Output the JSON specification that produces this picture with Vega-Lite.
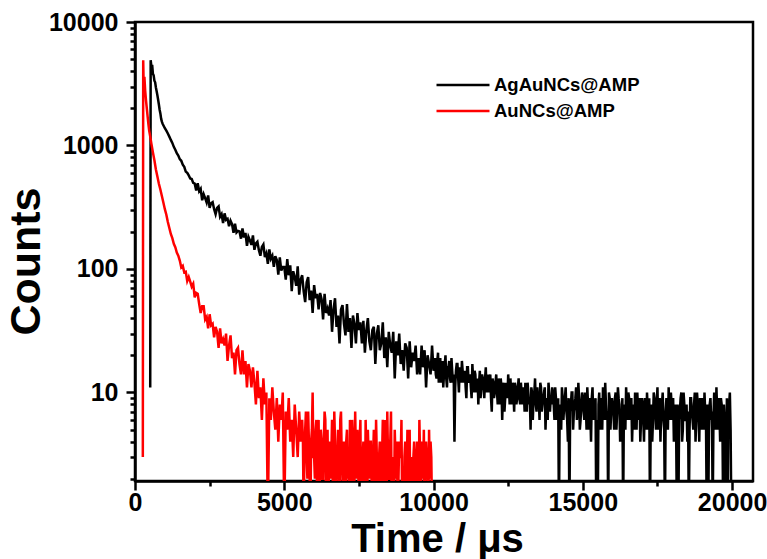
{
"$schema": "https://vega.github.io/schema/vega-lite/v6.json",
"autosize": {"type": "none"},
"padding": {"left": 135, "top": 22, "right": 14, "bottom": 78},
"width": 618,
"height": 459,
"background": "white",
"config": {
  "view": {"stroke": "black", "strokeWidth": 2.5},
  "axis": {"grid": false, "domainColor": "black", "domainWidth": 2.5, "tickColor": "black", "tickWidth": 2.5, "labelFont": "Liberation Sans", "labelFontWeight": "bold", "labelFontSize": 25, "labelColor": "black", "titleFont": "Liberation Sans", "titleFontWeight": "bold", "titleFontSize": 40, "titleColor": "black", "labelOverlap": false, "labelFlush": false}
},
"datasets": {
"black": [
{"t":510,"c":11},{"t":525,"c":4900},{"t":550,"c":4350},{"t":575,"c":4500},{"t":600,"c":3800},{"t":625,"c":3700},{"t":650,"c":3350},{"t":675,"c":3250},{"t":700,"c":2950},{"t":725,"c":2750},{"t":750,"c":2550},{"t":775,"c":2350},{"t":800,"c":2150},{"t":825,"c":1950},{"t":850,"c":1820},{"t":875,"c":1650},{"t":900,"c":1560},{"t":925,"c":1500},{"t":950,"c":1460},{"t":975,"c":1420},{"t":1000,"c":1380},
{"t":1050,"c":1320},{"t":1100,"c":1250},{"t":1150,"c":1180},{"t":1200,"c":1110},{"t":1250,"c":1050},{"t":1300,"c":975},{"t":1350,"c":925},{"t":1400,"c":865},{"t":1450,"c":830},{"t":1500,"c":775},{"t":1550,"c":752},{"t":1600,"c":700},{"t":1650,"c":672},{"t":1700,"c":615},{"t":1750,"c":600},{"t":1800,"c":572},{"t":1850,"c":540},{"t":1900,"c":535},{"t":1950,"c":498},
{"t":2000,"c":491},{"t":2050,"c":433},{"t":2100,"c":495},{"t":2150,"c":426},{"t":2200,"c":445},{"t":2250,"c":360},{"t":2300,"c":403},{"t":2350,"c":375},{"t":2400,"c":345},{"t":2450,"c":394},{"t":2500,"c":313},{"t":2550,"c":341},{"t":2600,"c":348},{"t":2650,"c":305},{"t":2700,"c":278},{"t":2750,"c":312},{"t":2800,"c":321},{"t":2850,"c":265},{"t":2900,"c":278},{"t":2950,"c":235},
{"t":3000,"c":282},{"t":3050,"c":250},{"t":3100,"c":255},{"t":3150,"c":222},{"t":3200,"c":246},{"t":3250,"c":231},{"t":3300,"c":196},{"t":3350,"c":233},{"t":3400,"c":197},{"t":3450,"c":203},{"t":3500,"c":201},{"t":3550,"c":176},{"t":3600,"c":213},{"t":3650,"c":180},{"t":3700,"c":196},{"t":3750,"c":154},{"t":3800,"c":182},{"t":3850,"c":170},{"t":3900,"c":157},{"t":3950,"c":187},
{"t":4000,"c":143},{"t":4050,"c":161},{"t":4100,"c":166},{"t":4150,"c":142},{"t":4200,"c":128},{"t":4250,"c":151},{"t":4300,"c":158},{"t":4350,"c":125},{"t":4400,"c":134},{"t":4450,"c":110},{"t":4500,"c":144},{"t":4550,"c":121},{"t":4600,"c":128},{"t":4650,"c":104},{"t":4700,"c":127},{"t":4750,"c":118},{"t":4800,"c":90},{"t":4850,"c":124},{"t":4900,"c":97},{"t":4950,"c":104},
{"t":5000,"c":104},{"t":5050,"c":82},{"t":5100,"c":120},{"t":5150,"c":89},{"t":5200,"c":107},{"t":5250,"c":66},{"t":5300,"c":96},{"t":5350,"c":86},{"t":5400,"c":73},{"t":5450,"c":105},{"t":5500,"c":62},{"t":5550,"c":82},{"t":5600,"c":89},{"t":5650,"c":66},{"t":5700,"c":54},{"t":5750,"c":78},{"t":5800,"c":86},{"t":5850,"c":56},{"t":5900,"c":67},{"t":5950,"c":44},
{"t":6000,"c":74},{"t":6050,"c":58},{"t":6100,"c":63},{"t":6150,"c":47},{"t":6200,"c":64},{"t":6250,"c":57},{"t":6300,"c":39},{"t":6350,"c":63},{"t":6400,"c":44},{"t":6450,"c":48},{"t":6500,"c":42},{"t":6550,"c":56},{"t":6600,"c":31},{"t":6650,"c":47},{"t":6700,"c":58},{"t":6750,"c":34},{"t":6800,"c":42},{"t":6850,"c":25},{"t":6900,"c":47},{"t":6950,"c":51},
{"t":7000,"c":36},{"t":7050,"c":29},{"t":7100,"c":52},{"t":7150,"c":31},{"t":7200,"c":40},{"t":7250,"c":23},{"t":7300,"c":42},{"t":7350,"c":36},{"t":7400,"c":25},{"t":7450,"c":44},{"t":7500,"c":32},{"t":7550,"c":37},{"t":7600,"c":25},{"t":7650,"c":38},{"t":7700,"c":21},{"t":7750,"c":32},{"t":7800,"c":40},{"t":7850,"c":26},{"t":7900,"c":22},{"t":7950,"c":32},
{"t":8000,"c":34},{"t":8050,"c":17},{"t":8100,"c":30},{"t":8150,"c":35},{"t":8200,"c":22},{"t":8250,"c":25},{"t":8300,"c":37},{"t":8350,"c":19},{"t":8400,"c":28},{"t":8450,"c":16},{"t":8500,"c":31},{"t":8550,"c":24},{"t":8600,"c":21},{"t":8650,"c":31},{"t":8700,"c":13},{"t":8750,"c":26},{"t":8800,"c":20},{"t":8850,"c":30},{"t":8900,"c":17},{"t":8950,"c":22},
{"t":9000,"c":15},{"t":9050,"c":25},{"t":9100,"c":23},{"t":9150,"c":13},{"t":9200,"c":26},{"t":9250,"c":16},{"t":9300,"c":21},{"t":9350,"c":18},{"t":9400,"c":24},{"t":9450,"c":14},{"t":9500,"c":19},{"t":9550,"c":14},{"t":9600,"c":24},{"t":9650,"c":16},{"t":9700,"c":22},{"t":9750,"c":11},{"t":9800,"c":20},{"t":9850,"c":17},{"t":9900,"c":14},{"t":9950,"c":24},
{"t":10000,"c":15},{"t":10050,"c":19},{"t":10100,"c":13},{"t":10150,"c":21},{"t":10200,"c":16},{"t":10250,"c":12},{"t":10300,"c":18},{"t":10350,"c":14},{"t":10400,"c":20},{"t":10450,"c":11},{"t":10500,"c":16},{"t":10550,"c":13},{"t":10600,"c":19},{"t":10650,"c":12},{"t":10700,"c":4},{"t":10750,"c":15},{"t":10800,"c":17},{"t":10850,"c":10},{"t":10900,"c":14},{"t":10950,"c":18},
{"t":11000,"c":12},{"t":11050,"c":15},{"t":11100,"c":9},{"t":11150,"c":16},{"t":11200,"c":13},{"t":11250,"c":11},{"t":11300,"c":17},{"t":11350,"c":10},{"t":11400,"c":14},{"t":11450,"c":12},{"t":11500,"c":8},{"t":11550,"c":15},{"t":11600,"c":11},{"t":11650,"c":13},{"t":11700,"c":9},{"t":11750,"c":16},{"t":11800,"c":12},{"t":11850,"c":10},{"t":11900,"c":14},{"t":11950,"c":7},
{"t":12000,"c":12},{"t":12050,"c":10},{"t":12100,"c":14},{"t":12150,"c":8},{"t":12200,"c":11},{"t":12250,"c":13},{"t":12300,"c":6},{"t":12350,"c":12},{"t":12400,"c":9},{"t":12450,"c":11},{"t":12500,"c":14},{"t":12550,"c":8},{"t":12600,"c":10},{"t":12650,"c":12},{"t":12700,"c":7},{"t":12750,"c":11},{"t":12800,"c":9},{"t":12850,"c":13},{"t":12900,"c":8},{"t":12950,"c":10},
{"t":13000,"c":11},{"t":13050,"c":7},{"t":13100,"c":9},{"t":13150,"c":12},{"t":13200,"c":8},{"t":13250,"c":5},{"t":13300,"c":10},{"t":13350,"c":9},{"t":13400,"c":13},{"t":13450,"c":7},{"t":13500,"c":9},{"t":13550,"c":6},{"t":13600,"c":11},{"t":13650,"c":8},{"t":13700,"c":10},{"t":13750,"c":5},{"t":13800,"c":9},{"t":13850,"c":12},{"t":13900,"c":7},{"t":13950,"c":8},
{"t":14000,"c":10},{"t":14050,"c":6},{"t":14100,"c":9},{"t":14150,"c":7},{"t":14200,"c":1},{"t":14250,"c":8},{"t":14300,"c":11},{"t":14350,"c":6},{"t":14400,"c":9},{"t":14450,"c":7},{"t":14500,"c":4},{"t":14550,"c":1},{"t":14600,"c":8},{"t":14650,"c":10},{"t":14700,"c":7},{"t":14750,"c":9},{"t":14800,"c":6},{"t":14850,"c":12},{"t":14900,"c":5},{"t":14950,"c":8},
{"t":15000,"c":9},{"t":15050,"c":6},{"t":15100,"c":8},{"t":15150,"c":11},{"t":15200,"c":5},{"t":15250,"c":7},{"t":15300,"c":9},{"t":15350,"c":6},{"t":15400,"c":8},{"t":15450,"c":1},{"t":15500,"c":1},{"t":15550,"c":10},{"t":15600,"c":7},{"t":15650,"c":5},{"t":15700,"c":8},{"t":15750,"c":12},{"t":15800,"c":6},{"t":15850,"c":1},{"t":15900,"c":9},{"t":15950,"c":7},
{"t":16000,"c":8},{"t":16050,"c":5},{"t":16100,"c":10},{"t":16150,"c":7},{"t":16200,"c":9},{"t":16250,"c":4},{"t":16300,"c":6},{"t":16350,"c":1},{"t":16400,"c":8},{"t":16450,"c":11},{"t":16500,"c":6},{"t":16550,"c":9},{"t":16600,"c":7},{"t":16650,"c":4},{"t":16700,"c":8},{"t":16750,"c":10},{"t":16800,"c":5},{"t":16850,"c":7},{"t":16900,"c":9},{"t":16950,"c":6},
{"t":17000,"c":8},{"t":17050,"c":4},{"t":17100,"c":7},{"t":17150,"c":10},{"t":17200,"c":5},{"t":17250,"c":1},{"t":17300,"c":8},{"t":17350,"c":6},{"t":17400,"c":9},{"t":17450,"c":5},{"t":17500,"c":11},{"t":17550,"c":7},{"t":17600,"c":4},{"t":17650,"c":8},{"t":17700,"c":6},{"t":17750,"c":1},{"t":17800,"c":9},{"t":17850,"c":5},{"t":17900,"c":7},{"t":17950,"c":10},
{"t":18000,"c":6},{"t":18050,"c":4},{"t":18100,"c":8},{"t":18150,"c":1},{"t":18200,"c":1},{"t":18250,"c":7},{"t":18300,"c":10},{"t":18350,"c":5},{"t":18400,"c":8},{"t":18450,"c":6},{"t":18500,"c":4},{"t":18550,"c":1},{"t":18600,"c":9},{"t":18650,"c":7},{"t":18700,"c":5},{"t":18750,"c":10},{"t":18800,"c":6},{"t":18850,"c":8},{"t":18900,"c":4},{"t":18950,"c":7},
{"t":19000,"c":9},{"t":19050,"c":5},{"t":19100,"c":7},{"t":19150,"c":1},{"t":19200,"c":1},{"t":19250,"c":8},{"t":19300,"c":6},{"t":19350,"c":1},{"t":19400,"c":10},{"t":19450,"c":5},{"t":19500,"c":7},{"t":19550,"c":9},{"t":19600,"c":4},{"t":19650,"c":8},{"t":19700,"c":1},{"t":19750,"c":6},{"t":19800,"c":1},{"t":19850,"c":1},{"t":19900,"c":8},{"t":19950,"c":5},{"t":19975,"c":1},
{"t":10025,"c":17},{"t":10075,"c":14},{"t":10125,"c":18},{"t":10175,"c":12},{"t":10225,"c":19},{"t":10275,"c":15},{"t":10325,"c":11},{"t":10375,"c":17},{"t":10425,"c":13},{"t":10475,"c":16},{"t":10525,"c":18},{"t":10575,"c":12},{"t":10625,"c":15},{"t":10675,"c":14},{"t":10725,"c":11},{"t":10775,"c":17},{"t":10825,"c":13},{"t":10875,"c":16},{"t":10925,"c":12},{"t":10975,"c":15},
{"t":11025,"c":14},{"t":11075,"c":11},{"t":11125,"c":16},{"t":11175,"c":12},{"t":11225,"c":14},{"t":11275,"c":9},{"t":11325,"c":13},{"t":11375,"c":15},{"t":11425,"c":10},{"t":11475,"c":13},{"t":11525,"c":12},{"t":11575,"c":9},{"t":11625,"c":14},{"t":11675,"c":11},{"t":11725,"c":13},{"t":11775,"c":10},{"t":11825,"c":14},{"t":11875,"c":12},{"t":11925,"c":9},{"t":11975,"c":13},
{"t":12025,"c":9},{"t":12075,"c":12},{"t":12125,"c":10},{"t":12175,"c":13},{"t":12225,"c":8},{"t":12275,"c":11},{"t":12325,"c":10},{"t":12375,"c":7},{"t":12425,"c":12},{"t":12475,"c":9},{"t":12525,"c":11},{"t":12575,"c":13},{"t":12625,"c":8},{"t":12675,"c":10},{"t":12725,"c":12},{"t":12775,"c":8},{"t":12825,"c":11},{"t":12875,"c":9},{"t":12925,"c":12},{"t":12975,"c":8},
{"t":13025,"c":10},{"t":13075,"c":12},{"t":13125,"c":7},{"t":13175,"c":10},{"t":13225,"c":9},{"t":13275,"c":11},{"t":13325,"c":6},{"t":13375,"c":10},{"t":13425,"c":8},{"t":13475,"c":11},{"t":13525,"c":9},{"t":13575,"c":12},{"t":13625,"c":7},{"t":13675,"c":9},{"t":13725,"c":11},{"t":13775,"c":8},{"t":13825,"c":6},{"t":13875,"c":10},{"t":13925,"c":9},{"t":13975,"c":11},
{"t":14025,"c":8},{"t":14075,"c":11},{"t":14125,"c":6},{"t":14175,"c":9},{"t":14225,"c":7},{"t":14275,"c":5},{"t":14325,"c":9},{"t":14375,"c":8},{"t":14425,"c":11},{"t":14475,"c":6},{"t":14525,"c":9},{"t":14575,"c":7},{"t":14625,"c":10},{"t":14675,"c":5},{"t":14725,"c":8},{"t":14775,"c":11},{"t":14825,"c":7},{"t":14875,"c":9},{"t":14925,"c":6},{"t":14975,"c":10},
{"t":15025,"c":7},{"t":15075,"c":10},{"t":15125,"c":5},{"t":15175,"c":8},{"t":15225,"c":9},{"t":15275,"c":4},{"t":15325,"c":11},{"t":15375,"c":7},{"t":15425,"c":9},{"t":15475,"c":6},{"t":15525,"c":8},{"t":15575,"c":5},{"t":15625,"c":9},{"t":15675,"c":11},{"t":15725,"c":6},{"t":15775,"c":8},{"t":15825,"c":7},{"t":15875,"c":10},{"t":15925,"c":5},{"t":15975,"c":9},
{"t":16025,"c":7},{"t":16075,"c":9},{"t":16125,"c":5},{"t":16175,"c":11},{"t":16225,"c":8},{"t":16275,"c":6},{"t":16325,"c":9},{"t":16375,"c":7},{"t":16425,"c":5},{"t":16475,"c":8},{"t":16525,"c":10},{"t":16575,"c":6},{"t":16625,"c":9},{"t":16675,"c":7},{"t":16725,"c":5},{"t":16775,"c":8},{"t":16825,"c":10},{"t":16875,"c":6},{"t":16925,"c":4},{"t":16975,"c":9},
{"t":17025,"c":6},{"t":17075,"c":9},{"t":17125,"c":5},{"t":17175,"c":7},{"t":17225,"c":9},{"t":17275,"c":6},{"t":17325,"c":4},{"t":17375,"c":10},{"t":17425,"c":7},{"t":17475,"c":8},{"t":17525,"c":5},{"t":17575,"c":9},{"t":17625,"c":7},{"t":17675,"c":10},{"t":17725,"c":5},{"t":17775,"c":7},{"t":17825,"c":8},{"t":17875,"c":11},{"t":17925,"c":6},{"t":17975,"c":8},
{"t":18025,"c":9},{"t":18075,"c":7},{"t":18125,"c":5},{"t":18175,"c":8},{"t":18225,"c":6},{"t":18275,"c":9},{"t":18325,"c":4},{"t":18375,"c":10},{"t":18425,"c":6},{"t":18475,"c":8},{"t":18525,"c":7},{"t":18575,"c":5},{"t":18625,"c":9},{"t":18675,"c":6},{"t":18725,"c":8},{"t":18775,"c":4},{"t":18825,"c":10},{"t":18875,"c":7},{"t":18925,"c":9},{"t":18975,"c":5},
{"t":19025,"c":7},{"t":19075,"c":10},{"t":19125,"c":6},{"t":19175,"c":8},{"t":19225,"c":5},{"t":19275,"c":9},{"t":19325,"c":7},{"t":19375,"c":6},{"t":19425,"c":8},{"t":19475,"c":11},{"t":19525,"c":5},{"t":19575,"c":7},{"t":19625,"c":9},{"t":19675,"c":6},{"t":19725,"c":8},{"t":19775,"c":5},{"t":19825,"c":9},{"t":19875,"c":7},{"t":19925,"c":10}
],
"red": [
{"t":262,"c":3},{"t":275,"c":4900},{"t":295,"c":2600},{"t":315,"c":3600},{"t":340,"c":2800},{"t":370,"c":2300},{"t":400,"c":1950},{"t":425,"c":1700},{"t":450,"c":1480},{"t":475,"c":1320},{"t":500,"c":1220},{"t":550,"c":1030},{"t":600,"c":880},{"t":650,"c":760},{"t":700,"c":640},{"t":750,"c":560},{"t":800,"c":490},{"t":850,"c":440},{"t":900,"c":390},{"t":950,"c":345},
{"t":1000,"c":305},{"t":1050,"c":275},{"t":1100,"c":240},{"t":1150,"c":215},{"t":1200,"c":192},{"t":1250,"c":178},{"t":1300,"c":160},{"t":1350,"c":150},{"t":1400,"c":136},{"t":1450,"c":128},{"t":1500,"c":117},{"t":1550,"c":103},{"t":1600,"c":106},{"t":1650,"c":94},{"t":1700,"c":95},{"t":1750,"c":80},{"t":1800,"c":86},{"t":1850,"c":79},{"t":1900,"c":72},{"t":1950,"c":76},
{"t":2000,"c":59},{"t":2050,"c":64},{"t":2100,"c":63},{"t":2150,"c":52},{"t":2200,"c":44},{"t":2250,"c":50},{"t":2300,"c":50},{"t":2350,"c":39},{"t":2400,"c":41},{"t":2450,"c":33},{"t":2500,"c":43},{"t":2550,"c":35},{"t":2600,"c":36},{"t":2650,"c":28},{"t":2700,"c":34},{"t":2750,"c":31},{"t":2800,"c":23},{"t":2850,"c":33},{"t":2900,"c":25},{"t":2950,"c":27},
{"t":3000,"c":24},{"t":3050,"c":30},{"t":3100,"c":18},{"t":3150,"c":24},{"t":3200,"c":29},{"t":3250,"c":19},{"t":3300,"c":21},{"t":3350,"c":14},{"t":3400,"c":22},{"t":3450,"c":23},{"t":3500,"c":17},{"t":3550,"c":14},{"t":3600,"c":22},{"t":3650,"c":14},{"t":3700,"c":18},{"t":3750,"c":11},{"t":3800,"c":17},{"t":3850,"c":15},{"t":3900,"c":11},{"t":3950,"c":16},
{"t":4000,"c":12},{"t":4050,"c":8},{"t":4100,"c":15},{"t":4150,"c":9},{"t":4200,"c":11},{"t":4250,"c":6},{"t":4300,"c":13},{"t":4350,"c":8},{"t":4400,"c":10},{"t":4450,"c":1},{"t":4500,"c":9},{"t":4550,"c":6},{"t":4600,"c":11},{"t":4650,"c":7},{"t":4700,"c":5},{"t":4750,"c":9},{"t":4800,"c":4},{"t":4850,"c":8},{"t":4900,"c":6},{"t":4950,"c":10},
{"t":5000,"c":1},{"t":5050,"c":7},{"t":5100,"c":5},{"t":5150,"c":9},{"t":5200,"c":4},{"t":5250,"c":6},{"t":5300,"c":3},{"t":5350,"c":8},{"t":5400,"c":5},{"t":5450,"c":3},{"t":5500,"c":7},{"t":5550,"c":4},{"t":5600,"c":6},{"t":5650,"c":1},{"t":5700,"c":5},{"t":5750,"c":3},{"t":5800,"c":7},{"t":5850,"c":2},{"t":5900,"c":4},{"t":5950,"c":10},
{"t":6000,"c":3},{"t":6050,"c":5},{"t":6100,"c":1},{"t":6150,"c":6},{"t":6200,"c":3},{"t":6250,"c":4},{"t":6300,"c":2},{"t":6350,"c":7},{"t":6400,"c":1},{"t":6450,"c":5},{"t":6500,"c":3},{"t":6550,"c":2},{"t":6600,"c":6},{"t":6650,"c":1},{"t":6700,"c":4},{"t":6750,"c":3},{"t":6800,"c":5},{"t":6850,"c":1},{"t":6900,"c":7},{"t":6950,"c":2},
{"t":7000,"c":4},{"t":7050,"c":1},{"t":7100,"c":5},{"t":7150,"c":3},{"t":7200,"c":6},{"t":7250,"c":1},{"t":7300,"c":4},{"t":7350,"c":2},{"t":7400,"c":3},{"t":7450,"c":5},{"t":7500,"c":1},{"t":7550,"c":6},{"t":7600,"c":2},{"t":7650,"c":4},{"t":7700,"c":1},{"t":7750,"c":3},{"t":7800,"c":5},{"t":7850,"c":2},{"t":7900,"c":4},{"t":7950,"c":1},
{"t":8000,"c":5},{"t":8050,"c":2},{"t":8100,"c":3},{"t":8150,"c":1},{"t":8200,"c":4},{"t":8250,"c":2},{"t":8300,"c":6},{"t":8350,"c":1},{"t":8400,"c":3},{"t":8450,"c":7},{"t":8500,"c":2},{"t":8550,"c":4},{"t":8600,"c":1},{"t":8650,"c":3},{"t":8700,"c":5},{"t":8750,"c":2},{"t":8800,"c":1},{"t":8850,"c":4},{"t":8900,"c":3},{"t":8950,"c":1},
{"t":9000,"c":1},{"t":9050,"c":4},{"t":9100,"c":2},{"t":9150,"c":1},{"t":9200,"c":5},{"t":9250,"c":3},{"t":9300,"c":1},{"t":9350,"c":4},{"t":9400,"c":2},{"t":9450,"c":4},{"t":9500,"c":1},{"t":9550,"c":3},{"t":9600,"c":4},{"t":9650,"c":2},{"t":9700,"c":1},{"t":9750,"c":4},{"t":9800,"c":3},{"t":9850,"c":5},{"t":9900,"c":4},{"t":9950,"c":1},
{"t":5625,"c":4},{"t":5675,"c":3},{"t":5725,"c":7},{"t":5775,"c":2},{"t":5825,"c":4},{"t":5875,"c":1},{"t":5925,"c":5},{"t":5975,"c":3},{"t":6025,"c":2},{"t":6075,"c":6},{"t":6125,"c":3},{"t":6175,"c":1},{"t":6225,"c":5},{"t":6275,"c":2},{"t":6325,"c":4},{"t":6375,"c":6},{"t":6425,"c":2},{"t":6475,"c":1},{"t":6525,"c":4},{"t":6575,"c":3},{"t":6625,"c":2},{"t":6675,"c":7},{"t":6725,"c":1},{"t":6775,"c":3},{"t":6825,"c":2},{"t":6875,"c":6},{"t":6925,"c":3},{"t":6975,"c":1},
{"t":7025,"c":3},{"t":7075,"c":4},{"t":7125,"c":2},{"t":7175,"c":1},{"t":7225,"c":3},{"t":7275,"c":6},{"t":7325,"c":1},{"t":7375,"c":7},{"t":7425,"c":2},{"t":7475,"c":3},{"t":7525,"c":4},{"t":7575,"c":1},{"t":7625,"c":3},{"t":7675,"c":2},{"t":7725,"c":6},{"t":7775,"c":1},{"t":7825,"c":3},{"t":7875,"c":4},{"t":7925,"c":2},{"t":7975,"c":3},
{"t":8025,"c":1},{"t":8075,"c":6},{"t":8125,"c":2},{"t":8175,"c":3},{"t":8225,"c":1},{"t":8275,"c":3},{"t":8325,"c":2},{"t":8375,"c":6},{"t":8425,"c":1},{"t":8475,"c":3},{"t":8525,"c":2},{"t":8575,"c":7},{"t":8625,"c":2},{"t":8675,"c":1},{"t":8725,"c":3},{"t":8775,"c":4},{"t":8825,"c":2},{"t":8875,"c":3},{"t":8925,"c":6},{"t":8975,"c":2},
{"t":9025,"c":3},{"t":9075,"c":1},{"t":9125,"c":5},{"t":9175,"c":3},{"t":9225,"c":1},{"t":9275,"c":2},{"t":9325,"c":3},{"t":9375,"c":1},{"t":9425,"c":3},{"t":9475,"c":2},{"t":9525,"c":6},{"t":9575,"c":1},{"t":9625,"c":3},{"t":9675,"c":5},{"t":9725,"c":2},{"t":9775,"c":3},{"t":9825,"c":1},{"t":9875,"c":2},{"t":9925,"c":3}
]
},
"layer": [
  {
    "data": {"name": "black"},
    "mark": {"type": "line", "strokeWidth": 2.5, "clip": true},
    "encoding": {
      "x": {"field": "t", "type": "quantitative", "scale": {"domain": [0, 20700], "nice": false, "zero": false},
        "axis": {"title": "Time / μs", "values": [0,2500,5000,7500,10000,12500,15000,17500,20000], "format": "d",
          "labelExpr": "datum.value % 5000 == 0 ? datum.label : ''",
          "tickSize": {"condition": {"test": "datum.value % 5000 != 0", "value": 5}, "value": 9},
          "labelPadding": 0, "titlePadding": 4, "titleX": 302}},
      "y": {"field": "c", "type": "quantitative", "scale": {"type": "log", "domain": [1.92, 10000], "nice": false},
        "axis": {"title": "Counts", "titleFontSize": 43, "values": [2,3,4,5,6,7,8,9,10,20,30,40,50,60,70,80,90,100,200,300,400,500,600,700,800,900,1000,2000,3000,4000,5000,6000,7000,8000,9000,10000], "format": "d",
          "labelExpr": "(datum.value == 10 || datum.value == 100 || datum.value == 1000 || datum.value == 10000) ? datum.label : ''",
          "tickSize": {"condition": {"test": "datum.value == 10 || datum.value == 100 || datum.value == 1000 || datum.value == 10000", "value": 9}, "value": 5},
          "labelPadding": 8, "titlePadding": 0, "titleY": 239}},
      "color": {"datum": "AgAuNCs@AMP", "type": "nominal",
        "scale": {"domain": ["AgAuNCs@AMP", "AuNCs@AMP"], "range": ["#000000", "#ff0000"]},
        "legend": {"title": null, "orient": "none", "legendX": 300, "legendY": 50, "symbolType": "stroke", "symbolSize": 2809, "symbolStrokeWidth": 2.5, "labelFont": "Liberation Sans", "labelFontWeight": "bold", "labelFontSize": 18.5, "labelColor": "black", "labelOffset": 3, "clipHeight": 26, "rowPadding": 0, "padding": 0}}
    }
  },
  {
    "data": {"name": "red"},
    "mark": {"type": "line", "strokeWidth": 2.5, "clip": true},
    "encoding": {
      "x": {"field": "t", "type": "quantitative"},
      "y": {"field": "c", "type": "quantitative"},
      "color": {"datum": "AuNCs@AMP", "type": "nominal"}
    }
  }
]
}
